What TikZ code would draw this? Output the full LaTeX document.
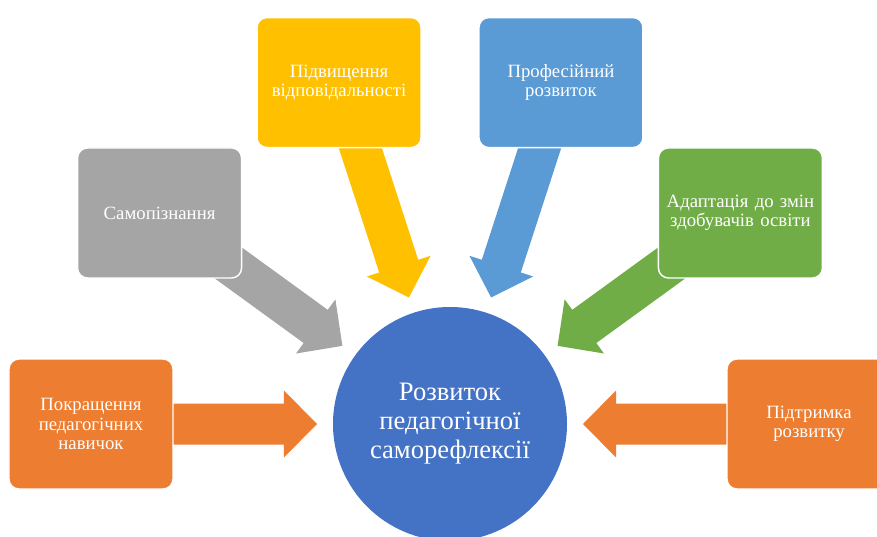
\documentclass[tikz,border=0pt]{standalone}
\usepackage{fontspec}
\setmainfont{Liberation Serif}
\usepackage{tikz}
\usetikzlibrary{calc,backgrounds}
\usepackage{xcolor}
\definecolor{msorange}{RGB}{237,125,49}
\definecolor{msgray}{RGB}{165,165,165}
\definecolor{msyellow}{RGB}{255,192,0}
\definecolor{msblue}{RGB}{91,155,213}
\definecolor{msgreen}{RGB}{112,173,71}
\definecolor{msdarkblue}{RGB}{68,114,196}
\tikzstyle{factor} = [rectangle, rounded corners=0.3cm, minimum width=4.92cm, minimum height=3.9cm, text width=4.6cm, align=center, draw=white, line width=1.2pt, text=white, font=\fontsize{16}{16.7}\selectfont]
\tikzstyle{hub} = [circle, minimum size=7.02cm, fill=msdarkblue, text=white, align=center, font=\fontsize{22.7}{24.7}\selectfont]
% block arrow from #1 towards #2, filled with #3
\newcommand{\blockarrow}[3]{%
  \path ($(#2.center)!4.98cm!(#1.center)$) coordinate (hb);
  \fill[#3] ($(#2.center)!3.99cm!(#1.center)$)
    -- ($(hb)!1.005cm!90:(#2.center)$) -- ($(hb)!0.615cm!90:(#2.center)$)
    -- ($(#1.center)!0.615cm!90:(#2.center)$) -- ($(#1.center)!0.615cm!-90:(#2.center)$)
    -- ($(hb)!0.615cm!-90:(#2.center)$) -- ($(hb)!1.005cm!-90:(#2.center)$) -- cycle;}

\begin{document}
\begin{tikzpicture}
\useasboundingbox (-13.5,-3.36) rectangle (12.81,12.72);
% centre
\node (hub) [hub] at (0,0) {Розвиток\\педагогічної\\саморефлексії};
% factors around the centre
\foreach \a/\col/\txt [count=\i] in {
  180/msorange/{Покращення\\педагогічних\\навичок},
  144/msgray/{Самопізнання},
  108/msyellow/{Підвищення\\відповідальності},
  72/msblue/{Професійний\\розвиток},
  36/msgreen/{Адаптація до змін\\здобувачів освіти},
  0/msorange/{Підтримка\\розвитку}}
  \node (b\i) [factor, fill=\col] at (\a:10.77cm) {\txt};
% arrows behind the boxes
\begin{scope}[on background layer]
\foreach \i/\col in {1/msorange,2/msgray,3/msyellow,4/msblue,5/msgreen,6/msorange}
  \blockarrow{b\i}{hub}{\col};
\end{scope}
\end{tikzpicture}
\end{document}
